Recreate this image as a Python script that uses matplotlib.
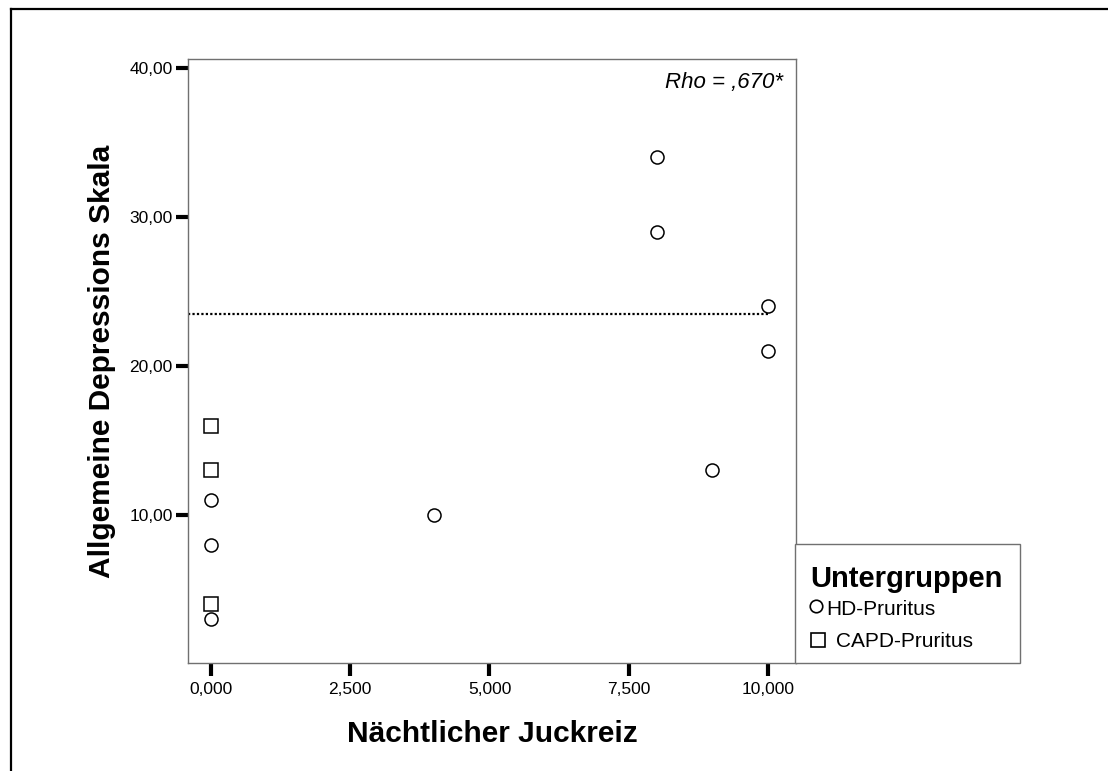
import matplotlib
matplotlib.use("Agg")
import matplotlib.pyplot as plt
from matplotlib.lines import Line2D
from matplotlib.patches import Rectangle
from matplotlib.ticker import FuncFormatter

plt.rcParams["font.family"] = ["Liberation Sans", "DejaVu Sans"]

# Punktwerte je Untergruppe
hd_x = [0, 0, 0, 4, 8, 8, 9, 10, 10]
hd_y = [3, 8, 11, 10, 34, 29, 13, 24, 21]
capd_x = [0, 0, 0]
capd_y = [16, 13, 4]

groups = ["HD-Pruritus", "CAPD-Pruritus"]
x_ticks = [0, 2.5, 5, 7.5, 10]
y_ticks = [10, 20, 30, 40]
ref_line = 23.5
ref_end = 10
rho_text = "Rho = ,670*"

W, H = 1108, 771


def px(x, y):
    # Pixelposition (von oben links) -> Figurkoordinaten
    return x / W, 1 - y / H


fig = plt.figure(figsize=(W / 100, H / 100), dpi=100)
ax = fig.add_axes([188 / W, 1 - 663 / H, 608 / W, 604 / H])

xmin, xmax = -0.41, 10.5
ax.set_xlim(xmin, xmax)
ax.set_ylim(0.07, 40.6)

ax.plot([xmin, ref_end], [ref_line, ref_line], color="black", lw=1.6,
        linestyle=(0, (1, 1)), zorder=2)

ax.plot(hd_x, hd_y, linestyle="none", marker="o", ms=9.4, mfc="white",
        mec="black", mew=1.1, zorder=3)
ax.plot(capd_x, capd_y, linestyle="none", marker="s", ms=9.4, mfc="white",
        mec="black", mew=1.1, zorder=3)

ax.set_xticks(x_ticks)
ax.set_yticks(y_ticks)
ax.xaxis.set_major_formatter(FuncFormatter(lambda v, p: f"{v:.3f}".replace(".", ",")))
ax.yaxis.set_major_formatter(FuncFormatter(lambda v, p: f"{v:.2f}".replace(".", ",")))
ax.tick_params(axis="both", direction="out", length=9, width=3, color="black",
               labelsize=12.5)
ax.tick_params(axis="y", pad=2)
ax.tick_params(axis="x", pad=5)

for s in ax.spines.values():
    s.set_color("#707070")
    s.set_linewidth(1)

ax.set_xlabel("Nächtlicher Juckreiz", fontsize=21.5, fontweight="bold")
ax.set_ylabel("Allgemeine Depressions Skala", fontsize=21.5, fontweight="bold")
ax.xaxis.set_label_coords(0.5, -0.094)
ax.yaxis.set_label_coords(-0.118, 0.5)

ax.text(0.9786, 0.952, rho_text, transform=ax.transAxes, ha="right",
        va="baseline", fontsize=16, style="italic")

# Legende rechts unten neben dem Diagramm
lx0, ly0 = px(795, 663)
lx1, ly1 = px(1020, 544)
fig.add_artist(Rectangle((lx0, ly0), lx1 - lx0, ly1 - ly0,
                         transform=fig.transFigure, facecolor="white",
                         edgecolor="#707070", lw=1))
fig.text(*px(810, 587), "Untergruppen", fontsize=21, fontweight="bold",
         va="baseline", ha="left")
cx, cy = px(816, 605.5)
fig.add_artist(Line2D([cx], [cy], marker="o", ms=9, mfc="white", mec="black",
                      mew=1.2, linestyle="none"))
fig.text(*px(826, 615), groups[0], fontsize=15, va="baseline", ha="left")
sx, sy = px(818, 639.5)
fig.add_artist(Line2D([sx], [sy], marker="s", ms=10, mfc="white", mec="black",
                      mew=1.2, linestyle="none"))
fig.text(*px(836, 647), groups[1], fontsize=15, va="baseline", ha="left")

# Rahmen um die Grafik (oben und links sichtbar)
bx, by = px(11, 9)
fig.add_artist(Line2D([bx, bx], [by, -0.05], color="black", lw=1.6))
fig.add_artist(Line2D([bx, 1.05], [by, by], color="black", lw=1.6))

fig.savefig("out.png", dpi=100)
